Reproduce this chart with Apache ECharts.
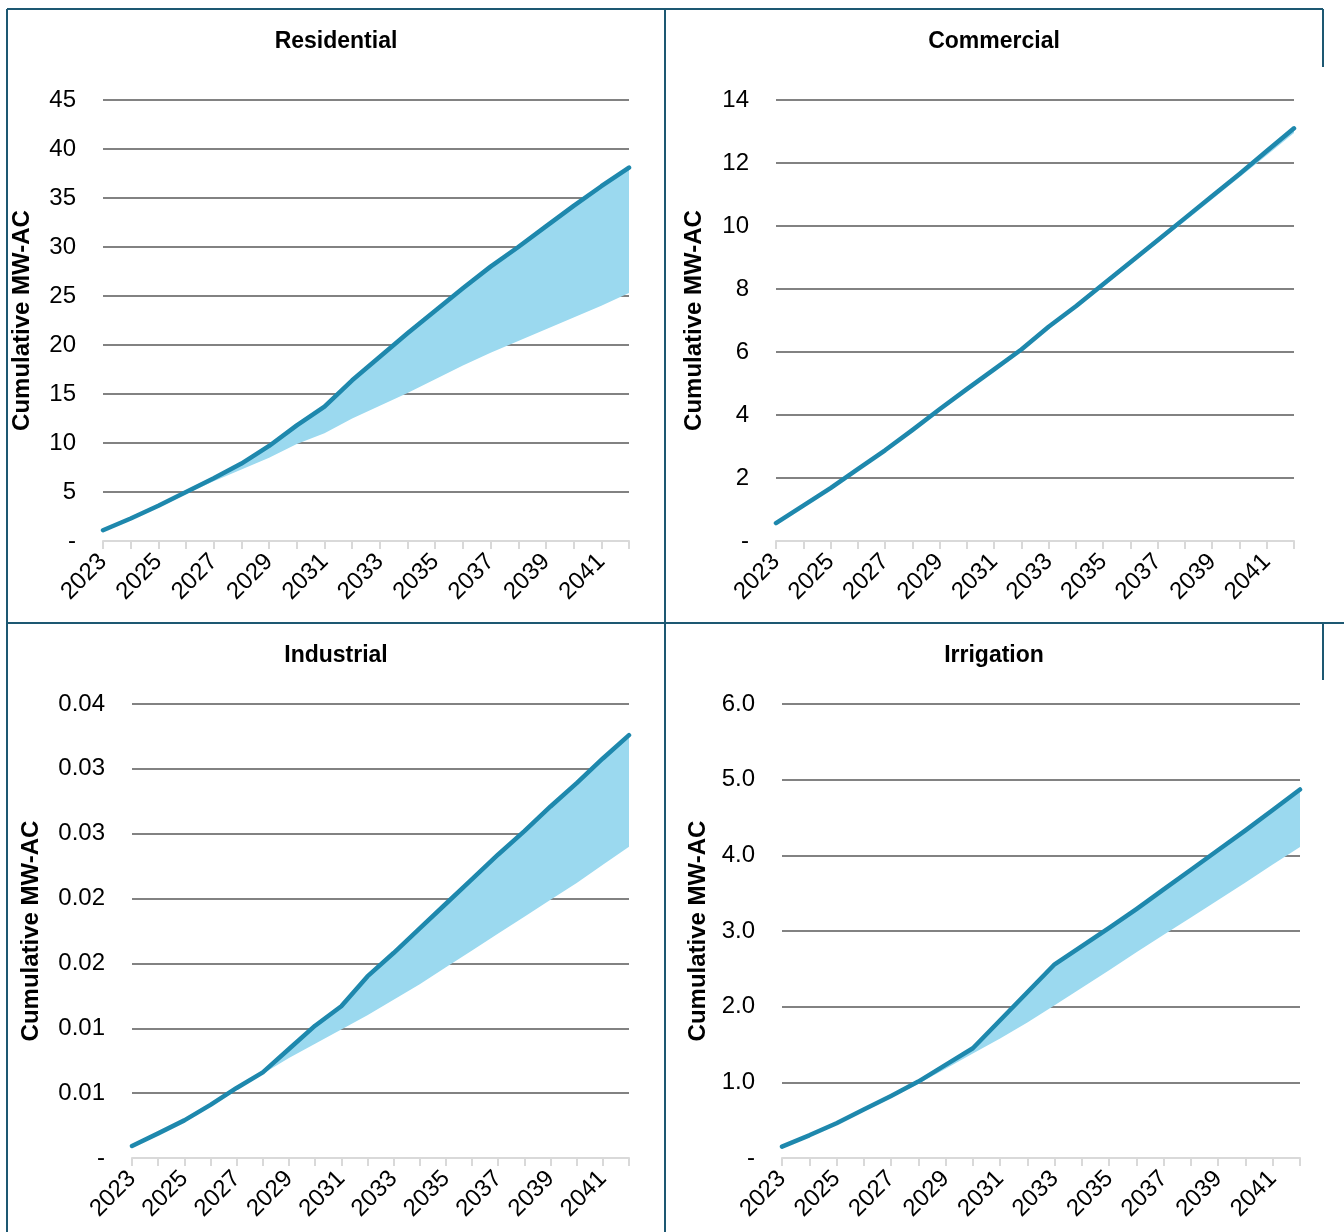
<!DOCTYPE html>
<html>
<head>
<meta charset="utf-8">
<script src="https://cdn.jsdelivr.net/npm/echarts@6/dist/echarts.min.js"></script>
<style>
html,body{margin:0;padding:0;background:#fff;}
#chart{width:1344px;height:1232px;}
</style>
</head>
<body>
<div id="chart"></div>
<script>
// ---- data ----
const years = ['2023','2024','2025','2026','2027','2028','2029','2030','2031','2032','2033','2034','2035','2036','2037','2038','2039','2040','2041','2042'];

const titles = ['Residential','Commercial','Industrial','Irrigation'];
const yName = 'Cumulative MW-AC';

const resUpper = [1.1,2.3,3.6,5.0,6.4,7.9,9.7,11.8,13.7,16.4,18.8,21.2,23.5,25.8,28.0,30.0,32.1,34.2,36.2,38.1];
const resLower = [1.1,2.3,3.5,4.8,6.1,7.3,8.5,9.9,11.0,12.5,13.8,15.1,16.5,17.9,19.2,20.4,21.6,22.8,24.0,25.3];

const comUpper = [0.57,1.12,1.68,2.28,2.88,3.52,4.18,4.82,5.45,6.08,6.80,7.45,8.15,8.85,9.55,10.25,10.95,11.65,12.38,13.1];
const comLower = [0.57,1.12,1.68,2.28,2.88,3.52,4.18,4.82,5.45,6.08,6.80,7.45,8.15,8.80,9.48,10.15,10.85,11.55,12.25,12.95];

const indUpper = [0.00093,0.0019,0.0029,0.0041,0.0054,0.0066,0.0084,0.0102,0.0117,0.0140,0.0158,0.0177,0.0196,0.0215,0.0234,0.0252,0.0271,0.0289,0.0308,0.0326];
const indLower = [0.00093,0.0019,0.0029,0.0041,0.0053,0.0065,0.0077,0.0088,0.0099,0.0110,0.0122,0.0134,0.0147,0.0160,0.0173,0.0186,0.0199,0.0212,0.0226,0.0240];

const irrUpper = [0.15,0.30,0.46,0.64,0.82,1.01,1.23,1.45,1.82,2.19,2.56,2.80,3.04,3.29,3.55,3.81,4.07,4.33,4.60,4.87];
const irrLower = [0.15,0.30,0.46,0.63,0.80,0.98,1.18,1.38,1.58,1.79,2.02,2.25,2.48,2.72,2.95,3.18,3.41,3.64,3.88,4.11];

const resTicks = ['-','5','10','15','20','25','30','35','40','45'];
const comTicks = ['-','2','4','6','8','10','12','14'];
const indTicks = ['-','0.01','0.01','0.02','0.02','0.03','0.03','0.04'];
const irrTicks = ['-','1.0','2.0','3.0','4.0','5.0','6.0'];

// ---- layout / style ----
const panels = [
  {upper: resUpper, lower: resLower, ticks: resTicks, interval: 5,     grid: {left:103, top:100, width:526, height:441}, title:{x:336, y:30},  nameGap:69},
  {upper: comUpper, lower: comLower, ticks: comTicks, interval: 2,     grid: {left:776, top:100, width:518, height:441}, title:{x:994, y:30},  nameGap:70},
  {upper: indUpper, lower: indLower, ticks: indTicks, interval: 0.005, grid: {left:132, top:704, width:497, height:454}, title:{x:336, y:644}, nameGap:89},
  {upper: irrUpper, lower: irrLower, ticks: irrTicks, interval: 1,     grid: {left:782, top:704, width:518, height:454}, title:{x:994, y:644}, nameGap:72}
];

const FONT = '"Liberation Sans", Arial, sans-serif';
const LINE = '#1E88AD';
const BAND = '#9BD9EF';
const BORDER = '#1D5872';

const option = {
  backgroundColor: '#fff',
  animation: false,
  textStyle: {fontFamily: FONT},
  title: [], grid: [], xAxis: [], yAxis: [], series: [],
  graphic: []
};

panels.forEach((p, i) => {
  option.title.push({
    text: titles[i], left: p.title.x, top: p.title.y, textAlign: 'center', padding: 0,
    textStyle: {fontFamily: FONT, fontSize: 23, fontWeight: 'bold', color: '#000'}
  });
  option.grid.push(Object.assign({containLabel: false, outerBoundsMode: 'none'}, p.grid));
  option.xAxis.push({
    type: 'category', gridIndex: i, data: years, boundaryGap: false,
    axisLine: {show: true, lineStyle: {color: '#D9D9D9', width: 2}},
    axisTick: {show: true, interval: 0, length: 8, lineStyle: {color: '#D9D9D9', width: 2}},
    axisLabel: {interval: 1, rotate: 45, margin: 17, fontSize: 24, color: '#000', fontFamily: FONT},
    splitLine: {show: false}
  });
  const n = p.ticks.length - 1;
  option.yAxis.push({
    type: 'value', gridIndex: i, min: 0, max: p.interval * n, interval: p.interval,
    axisLine: {show: false}, axisTick: {show: false},
    splitLine: {show: true, lineStyle: {color: '#828282', width: 2}},
    axisLabel: {margin: 27, fontSize: 24, color: '#000', fontFamily: FONT,
      formatter: (v) => p.ticks[Math.round(v / p.interval)]},
    name: yName, nameLocation: 'middle', nameRotate: 90, nameGap: p.nameGap,
    nameTextStyle: {fontSize: 24, fontWeight: 'bold', color: '#000', fontFamily: FONT}
  });
  const diff = p.upper.map((u, k) => u - p.lower[k]);
  option.series.push({
    type: 'line', xAxisIndex: i, yAxisIndex: i, data: p.lower, stack: 'band' + i,
    symbol: 'none', lineStyle: {width: 0, opacity: 0}, silent: true, z: 1
  });
  option.series.push({
    type: 'line', xAxisIndex: i, yAxisIndex: i, data: diff, stack: 'band' + i,
    symbol: 'none', lineStyle: {width: 0, opacity: 0}, areaStyle: {color: BAND, opacity: 1}, silent: true, z: 2
  });
  option.series.push({
    type: 'line', xAxisIndex: i, yAxisIndex: i, data: p.upper,
    symbol: 'none', lineStyle: {width: 4.5, color: LINE, cap: 'round', join: 'round'}, z: 3
  });
});

// table borders
const borderSegs = [
  [7, 9, 1323, 9],
  [7, 9, 7, 1232],
  [665, 9, 665, 1232],
  [7, 623, 1344, 623],
  [1323, 9, 1323, 67],
  [1323, 623, 1323, 680]
];
borderSegs.forEach(s => option.graphic.push({
  type: 'line', shape: {x1: s[0], y1: s[1], x2: s[2], y2: s[3]},
  style: {stroke: BORDER, lineWidth: 2}, z: 100, silent: true
}));

const chart = echarts.init(document.getElementById('chart'), null, {renderer: 'canvas'});
chart.setOption(option);
</script>
</body>
</html>
